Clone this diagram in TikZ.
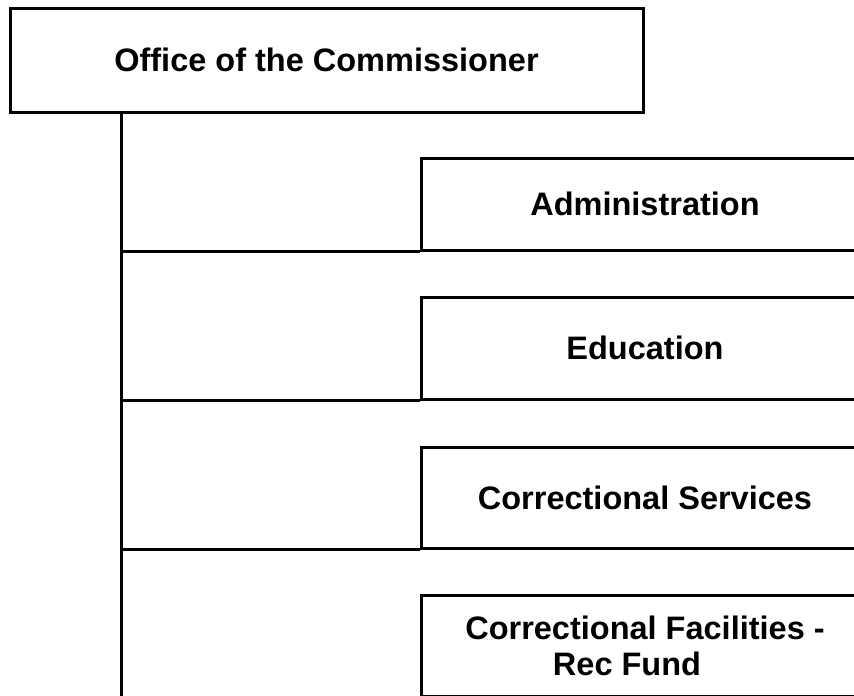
\documentclass[tikz,border=0pt]{standalone}
\usepackage{fontspec}
\setmainfont{Liberation Sans}
\begin{document}
\begin{tikzpicture}[x=1pt, y=-1pt, line width=3pt,
  box/.style={draw, rectangle, inner sep=0pt, align=center,
    font=\bfseries\fontsize{32.5}{36}\selectfont},
  unit/.style={box, minimum width=448pt}]
\useasboundingbox (0,0) rectangle (854,696);
\clip (0,0) rectangle (854,696);

\node[box, minimum width=633pt, minimum height=104pt] (n01) at (326.5, 60) {Office of the Commissioner};

\node[unit, minimum height=92pt] (n11) at (645, 204) {Administration};
\node[unit, minimum height=102pt] (n12) at (645, 348) {Education};
\node[unit, minimum height=101pt] (n13) at (645, 497.5) {Correctional Services};
\node[unit, minimum height=101pt] (n14) at (645, 645.5) {Correctional Facilities -\\Rec Fund\hspace*{36pt}};

\coordinate (t0) at (121, 700);

\draw (n01.south -| t0) -- (t0);

\draw (n11.south west -| t0) -- (n11.south west);
\draw (n12.south west -| t0) -- (n12.south west);
\draw (n13.south west -| t0) -- (n13.south west);
\end{tikzpicture}
\end{document}
